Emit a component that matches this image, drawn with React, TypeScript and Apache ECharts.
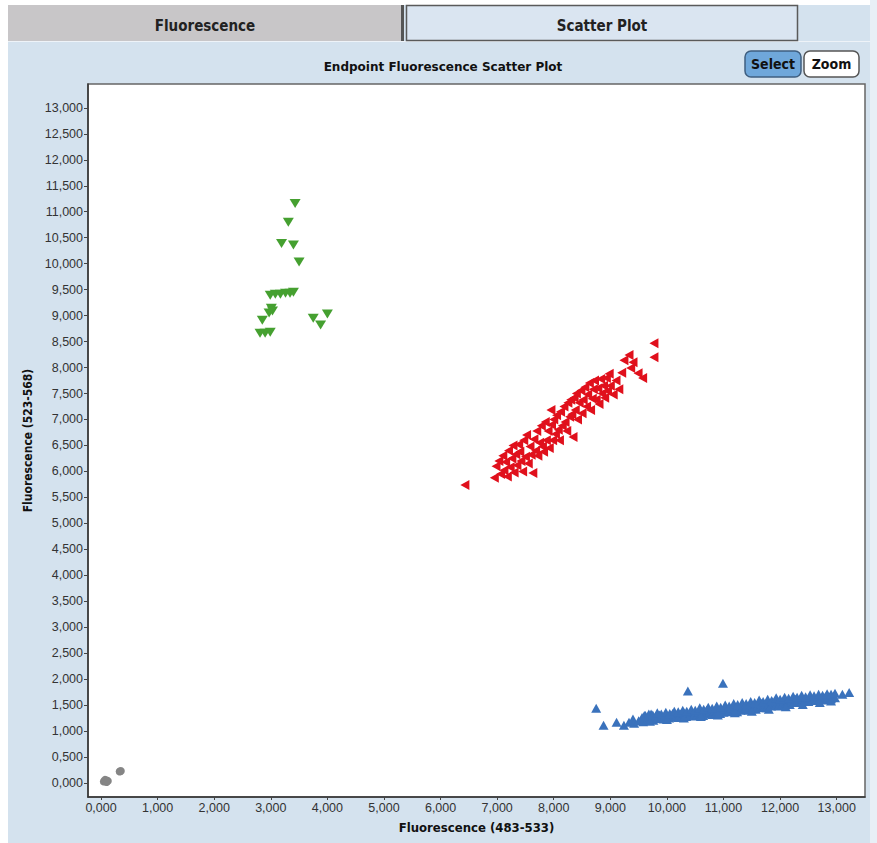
import React, { useEffect, useRef } from "react";
import * as echarts from "echarts";

const xTickValues = [0, 1000, 2000, 3000, 4000, 5000, 6000, 7000, 8000, 9000, 10000, 11000, 12000, 13000];
const xTickLabels = ["0,000", "1,000", "2,000", "3,000", "4,000", "5,000", "6,000", "7,000", "8,000", "9,000", "10,000", "11,000", "12,000", "13,000"];
const yTickValues = [0, 500, 1000, 1500, 2000, 2500, 3000, 3500, 4000, 4500, 5000, 5500, 6000, 6500, 7000, 7500, 8000, 8500, 9000, 9500, 10000, 10500, 11000, 11500, 12000, 12500, 13000];
const yTickLabels = ["0,000", "0,500", "1,000", "1,500", "2,000", "2,500", "3,000", "3,500", "4,000", "4,500", "5,000", "5,500", "6,000", "6,500", "7,000", "7,500", "8,000", "8,500", "9,000", "9,500", "10,000", "10,500", "11,000", "11,500", "12,000", "12,500", "13,000"];

const greyPoints = [
  [50, 30], [90, 50], [120, 40], [70, 60], [100, 20], [330, 220], [350, 230],
];

const greenPoints = [
  [3430, 11160], [3310, 10800], [3190, 10390], [3400, 10360], [3500, 10030],
  [2990, 9390], [3080, 9410], [3170, 9410], [3260, 9430], [3340, 9430], [3400, 9450],
  [3010, 9140], [2970, 9050], [3030, 9090], [2850, 8910],
  [2810, 8660], [2900, 8660], [2990, 8680],
  [3750, 8950], [3880, 8820], [4000, 9030],
];

const redPoints = [
  [6430, 5740],
  [6950, 5880], [6980, 6100], [7030, 6200], [7060, 5950], [7100, 6300], [7120, 6020], [7150, 6180], [7180, 5900],
  [7200, 6400], [7230, 6080], [7260, 6250], [7280, 6500], [7300, 5980], [7330, 6330], [7350, 6120], [7380, 6520],
  [7400, 6380], [7420, 6200], [7450, 6000], [7470, 6600], [7500, 6280], [7520, 6700], [7550, 6150], [7580, 6480],
  [7600, 6320], [7630, 5970], [7650, 6620], [7680, 6400], [7700, 6780], [7720, 6300], [7750, 6550], [7780, 6880],
  [7800, 6480], [7820, 6380], [7850, 6950], [7870, 6600], [7900, 6780], [7920, 6450], [7950, 7180], [7960, 6900],
  [7980, 6600], [8000, 7000], [8030, 6720], [8050, 7080], [8080, 6800], [8100, 6600], [8120, 7150], [8150, 6880],
  [8180, 7250], [8200, 6950], [8230, 6780], [8250, 7320], [8280, 7050], [8300, 7380], [8320, 7100], [8340, 6660],
  [8360, 7420], [8380, 7180], [8400, 7500], [8420, 7000], [8450, 7320], [8480, 7560], [8500, 7120], [8520, 7380],
  [8550, 7620], [8580, 7250], [8600, 7480], [8630, 7700], [8650, 7180], [8680, 7400], [8700, 7580], [8720, 7750],
  [8750, 7380], [8780, 7600], [8800, 7300], [8830, 7780], [8850, 7500], [8880, 7650], [8900, 7420], [8930, 7800],
  [8950, 7550], [8980, 7880], [9000, 7650], [9050, 7480], [9100, 7750], [9150, 7580], [9200, 7900], [9240, 8140],
  [9330, 8240], [9360, 7990], [9400, 8100], [9490, 7890], [9570, 7800], [9770, 8470], [9770, 8200],
];

const bluePoints = [
  [8750, 1440], [8880, 1110], [9110, 1170], [9240, 1110], [9330, 1170], [9400, 1230], [9420, 1150], [9500, 1200],
  [9560, 1260], [9580, 1180], [9620, 1300], [9650, 1220], [9700, 1250], [9720, 1330], [9760, 1210], [9800, 1280],
  [9830, 1240], [9870, 1310], [9900, 1260], [9940, 1230], [9970, 1320], [10000, 1280], [10040, 1250], [10070, 1300],
  [10100, 1340], [10130, 1270], [10170, 1310], [10200, 1260], [10240, 1330], [10270, 1290], [10300, 1350], [10340, 1280],
  [10370, 1320], [10400, 1300], [10440, 1360], [10470, 1290], [10500, 1330], [10540, 1310], [10570, 1370], [10600, 1320],
  [10640, 1300], [10670, 1350], [10700, 1400], [10740, 1330], [10770, 1370], [10800, 1320], [10840, 1390], [10870, 1350],
  [10900, 1380], [10940, 1340], [10970, 1400], [11000, 1360], [11040, 1420], [11070, 1370], [11100, 1390], [11140, 1440],
  [11170, 1380], [11200, 1410], [11240, 1370], [11270, 1430], [11300, 1400], [11340, 1470], [11370, 1420], [11400, 1450],
  [11440, 1400], [11470, 1480], [11500, 1430], [11540, 1460], [11570, 1420], [11600, 1490], [11640, 1450], [11670, 1530],
  [11700, 1470], [11740, 1500], [11770, 1450], [11800, 1520], [11840, 1480], [11870, 1560], [11900, 1500], [11940, 1530],
  [11970, 1480], [12000, 1550], [12040, 1510], [12070, 1580], [12100, 1520], [12140, 1560], [12170, 1510], [12200, 1580],
  [12240, 1550], [12270, 1610], [12300, 1560], [12340, 1590], [12370, 1550], [12400, 1620], [12440, 1580], [12470, 1610],
  [12500, 1570], [12540, 1640], [12570, 1600], [12600, 1620], [12640, 1590], [12670, 1650], [12700, 1610], [12740, 1640],
  [12770, 1600], [12800, 1660], [12840, 1630], [12870, 1650], [12900, 1620], [12940, 1670], [12970, 1640], [13100, 1710],
  [13220, 1740], [10370, 1770], [10990, 1920],
  [9700, 1190], [10000, 1220], [10300, 1250], [10600, 1280], [10900, 1310], [11200, 1350], [11500, 1380], [11800, 1420],
  [12100, 1470], [12400, 1510], [12700, 1550], [12900, 1580],
  [9600, 1300], [9680, 1330], [9750, 1310], [9830, 1350], [9900, 1330], [9980, 1360], [10050, 1340], [10130, 1380],
  [10200, 1370], [10280, 1400], [10350, 1380], [10430, 1420], [10500, 1400], [10580, 1450], [10650, 1420], [10730, 1460],
  [10800, 1440], [10880, 1480], [10950, 1460], [11030, 1500], [11100, 1480], [11180, 1530], [11250, 1510], [11330, 1550],
  [11400, 1530], [11480, 1570], [11550, 1550], [11630, 1600], [11700, 1570], [11780, 1610], [11850, 1590], [11930, 1640],
  [12000, 1610], [12080, 1650], [12150, 1630], [12230, 1670], [12300, 1650], [12380, 1690], [12450, 1660], [12530, 1700],
  [12600, 1680], [12680, 1710], [12750, 1690], [12830, 1720], [12900, 1710], [12970, 1730],
];

const PANEL = "#D4E2EE";

export default function App() {
  const ref = useRef<HTMLDivElement>(null);
  useEffect(() => {
    if (!ref.current) return;
    const chart = echarts.init(ref.current, undefined, { renderer: "svg" });
    const labelFont = "'Liberation Sans', Arial, sans-serif";
    const boldFont = "'Liberation Sans Narrow', 'DejaVu Sans Condensed', Arial, sans-serif";
    const option: any = {
      animation: false,
      backgroundColor: PANEL,
      graphic: [
        { type: "rect", shape: { x: 0, y: 0, width: 877, height: 5 }, style: { fill: "#ffffff" }, silent: true },
        { type: "rect", shape: { x: 0, y: 0, width: 8, height: 843 }, style: { fill: "#ffffff" }, silent: true },
        { type: "rect", shape: { x: 870, y: 0, width: 7, height: 843 }, style: { fill: "#E8EFF6" }, silent: true },
        { type: "rect", shape: { x: 8, y: 5, width: 395, height: 36 }, style: { fill: "#C8C6C8" }, silent: true },
        { type: "rect", shape: { x: 8, y: 41, width: 862, height: 1 }, style: { fill: "#EEF3F8" }, silent: true },
        { type: "rect", shape: { x: 401, y: 5, width: 3, height: 36 }, style: { fill: "#555555" }, silent: true },
        {
          type: "rect",
          shape: { x: 406.5, y: 5.5, width: 391, height: 35 },
          style: { fill: "#DAE5F1", stroke: "#5a5a5a", lineWidth: 1.5 },
          silent: true,
        },
        {
          type: "text", x: 205, y: 26,
          style: { text: "Fluorescence", fill: "#222", font: `bold 15px ${boldFont}`, align: "center", verticalAlign: "middle" },
          silent: true,
        },
        {
          type: "text", x: 602, y: 26,
          style: { text: "Scatter Plot", fill: "#222", font: `bold 15px ${boldFont}`, align: "center", verticalAlign: "middle" },
          silent: true,
        },
        {
          type: "text", x: 443, y: 67,
          style: { text: "Endpoint Fluorescence Scatter Plot", fill: "#111", font: "bold 12px 'DejaVu Sans', sans-serif", align: "center", verticalAlign: "middle" },
          silent: true,
        },
        {
          type: "rect",
          shape: { x: 745, y: 51, width: 56, height: 26, r: 6 },
          style: { fill: "#6FA7DA", stroke: "#3f5f80", lineWidth: 1.5 },
          silent: true,
        },
        {
          type: "text", x: 773, y: 64,
          style: { text: "Select", fill: "#111", font: `bold 14px ${boldFont}`, align: "center", verticalAlign: "middle" },
          silent: true,
        },
        {
          type: "rect",
          shape: { x: 804, y: 51, width: 55, height: 26, r: 6 },
          style: { fill: "#ffffff", stroke: "#555555", lineWidth: 1.5 },
          silent: true,
        },
        {
          type: "text", x: 831.5, y: 64,
          style: { text: "Zoom", fill: "#111", font: `bold 14px ${boldFont}`, align: "center", verticalAlign: "middle" },
          silent: true,
        },
      ],
      grid: {
        left: 88, top: 84, right: 12, bottom: 46,
        show: true, backgroundColor: "#ffffff", borderColor: "#666", borderWidth: 1.5,
      },
      xAxis: {
        type: "value",
        min: -230, max: 13500,
        splitLine: { show: false },
        axisLine: { show: true, onZero: false, lineStyle: { color: "#333", width: 1.5 } },
        axisTick: { show: true, customValues: xTickValues, length: 3, lineStyle: { color: "#444" } },
        axisLabel: {
          customValues: xTickValues,
          formatter: (v: number) => { const i = xTickValues.indexOf(v); return i >= 0 ? xTickLabels[i] : ""; },
          fontSize: 12.5, color: "#333", margin: 4, fontFamily: labelFont,
        },
        name: "Fluorescence (483-533)",
        nameLocation: "middle",
        nameGap: 24,
        nameTextStyle: { fontWeight: "bold", fontSize: 13, color: "#111", fontFamily: boldFont },
      },
      yAxis: {
        type: "value",
        min: -270, max: 13460,
        splitLine: { show: false },
        axisLine: { show: true, onZero: false, lineStyle: { color: "#333", width: 1.5 } },
        axisTick: { show: true, customValues: yTickValues, length: 4, lineStyle: { color: "#444" } },
        axisLabel: {
          customValues: yTickValues,
          formatter: (v: number) => { const i = yTickValues.indexOf(v); return i >= 0 ? yTickLabels[i] : ""; },
          fontSize: 12.5, color: "#333", margin: 5, fontFamily: labelFont,
        },
        name: "Fluorescence (523-568)",
        nameLocation: "middle",
        nameGap: 54,
        nameRotate: 90,
        nameTextStyle: { fontWeight: "bold", fontSize: 12, color: "#111", fontFamily: boldFont },
      },
      series: [
        {
          type: "scatter", name: "grey", data: greyPoints,
          symbol: "circle", symbolSize: 8,
          itemStyle: { color: "#858585", opacity: 1 },
        },
        {
          type: "scatter", name: "green", data: greenPoints,
          symbol: "triangle", symbolSize: [11, 9], symbolRotate: 180,
          itemStyle: { color: "#45A030", opacity: 1 },
        },
        {
          type: "scatter", name: "red", data: redPoints,
          symbol: "triangle", symbolSize: [10, 9], symbolRotate: 90,
          itemStyle: { color: "#E0101C", opacity: 1 },
        },
        {
          type: "scatter", name: "blue", data: bluePoints,
          symbol: "triangle", symbolSize: [10, 9],
          itemStyle: { color: "#3A72BC", opacity: 1 },
        },
      ],
    };
    chart.setOption(option);
    return () => chart.dispose();
  }, []);
  return (
    <div
      ref={ref}
      style={{ position: "fixed", left: 0, top: 0, width: 877, height: 843 }}
    />
  );
}
